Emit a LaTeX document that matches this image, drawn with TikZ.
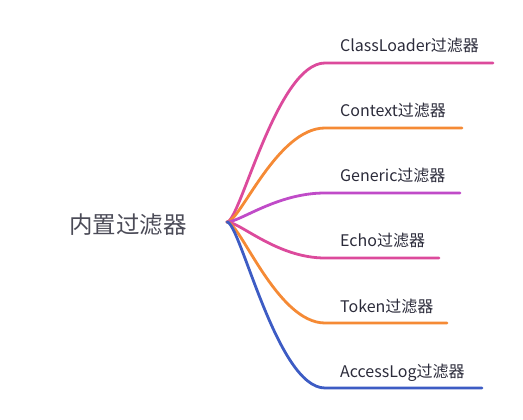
\documentclass[tikz,border=0pt]{standalone}
\usepackage{fontspec}
\setmainfont{Noto Sans CJK SC}
\definecolor{cmag}{HTML}{DC4A9C}
\definecolor{corg}{HTML}{F58A35}
\definecolor{cpur}{HTML}{C04BC8}
\definecolor{cblu}{HTML}{3D5CC4}
\definecolor{ctxt}{HTML}{2B2B3A}
\tikzset{
  br/.style={line width=2.8pt, line cap=round, line join=round},
  lbl/.style={anchor=base west, inner sep=0pt, text=ctxt, font=\fontsize{16}{19}\selectfont},
  rootlbl/.style={anchor=west, inner sep=0pt, text=ctxt!85, font=\fontsize{23.5}{28}\selectfont}
}
\begin{document}
\begin{tikzpicture}[x=1pt,y=-1pt]
\useasboundingbox (0,0) rectangle (523,420);
\node[rootlbl] (root) at (69,225) {内置过滤器};
\coordinate (o) at (227,222);
% branch knees and ends
\coordinate (k1) at (325,63);  \coordinate (e1) at (493,63);
\coordinate (k2) at (325,128); \coordinate (e2) at (462,128);
\coordinate (k3) at (325,193); \coordinate (e3) at (460,193);
\coordinate (k4) at (325,258); \coordinate (e4) at (439,258);
\coordinate (k5) at (325,323); \coordinate (e5) at (447,323);
\coordinate (k6) at (325,388); \coordinate (e6) at (482,388);
\draw[br, cmag] (o) .. controls (240,222) and (277,63) .. (k1) -- (e1);
\draw[br, corg] (o) .. controls (240,222) and (277,128) .. (k2) -- (e2);
\draw[br, cpur] (o) .. controls (240,222) and (277,193) .. (k3) -- (e3);
\draw[br, cmag] (o) .. controls (240,222) and (277,258) .. (k4) -- (e4);
\draw[br, corg] (o) .. controls (240,222) and (277,323) .. (k5) -- (e5);
\draw[br, cblu] (o) .. controls (240,222) and (277,388) .. (k6) -- (e6);
\node[lbl] (t1) at (340,52) {ClassLoader过滤器};
\node[lbl] (t2) at (340,117) {Context过滤器};
\node[lbl] (t3) at (340,182) {Generic过滤器};
\node[lbl] (t4) at (340,247) {Echo过滤器};
\node[lbl] (t5) at (340,312) {Token过滤器};
\node[lbl] (t6) at (340,377) {AccessLog过滤器};
\end{tikzpicture}
\end{document}
